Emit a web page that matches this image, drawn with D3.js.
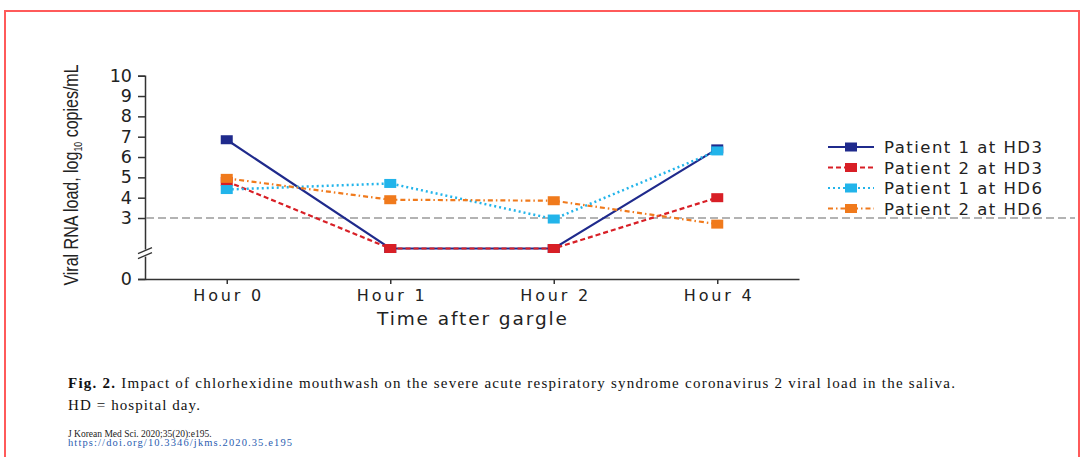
<!DOCTYPE html>
<html>
<head>
<meta charset="utf-8">
<script src="https://cdn.jsdelivr.net/npm/d3@7"></script>
<style>
  html, body { margin: 0; padding: 0; background: #fff; }
  svg { display: block; }
</style>
</head>
<body>
<svg id="chart" width="1083" height="457"></svg>
<script>
// Time points after gargling
const hours = ["Hour 0", "Hour 1", "Hour 2", "Hour 4"];

// Viral RNA load (log10 copies/mL); 1.5 = below detection limit
const patient1HD3 = [6.85, 1.5, 1.5, 6.4];
const patient2HD3 = [4.8, 1.5, 1.5, 4.0];
const patient1HD6 = [4.4, 4.7, 2.95, 6.3];
const patient2HD6 = [4.95, 3.9, 3.85, 2.7];

const yTicks = [0, 3, 4, 5, 6, 7, 8, 9, 10];
const detectionLimit = 3;

const seriesNames = ["Patient 1 at HD3", "Patient 2 at HD3", "Patient 1 at HD6", "Patient 2 at HD6"];
const seriesValues = [patient1HD3, patient2HD3, patient1HD6, patient2HD6];
const seriesColors = ["#1f2a8c", "#d81f26", "#22b4ea", "#f07a1c"];
const seriesDash = [null, "5,3", "2,3", "5,3,1.5,3"];

const svg = d3.select("#chart");
const sans = "'DejaVu Sans', 'Open Sans', sans-serif";
const serif = "'Liberation Serif', 'Times New Roman', serif";

// Red frame around the figure
svg.append("path")
  .attr("d", "M5,460 V11 H1079 V460")
  .attr("stroke", "#ff5a5a").attr("stroke-width", 2).attr("fill", "none");

const x = d3.scalePoint().domain(hours).range([145, 799]).padding(0.5);
const y = d3.scaleLinear().domain([0, 10]).range([279, 75.7]);

const axisColor = "#333";

// Y axis
const yAxis = svg.append("g")
  .attr("transform", "translate(145,0)")
  .call(d3.axisLeft(y).tickValues(yTicks).tickSize(7).tickPadding(6).tickFormat(d3.format("d")));
yAxis.select(".domain").attr("stroke", axisColor).attr("stroke-width", 1.5);
yAxis.selectAll(".tick line").attr("stroke", axisColor).attr("stroke-width", 1.5);
yAxis.selectAll(".tick text")
  .attr("font-family", sans)
  .attr("font-size", 17.5).attr("fill", "#222");

// Axis break marks
const by = y(1.25);
const brk = svg.append("g");
brk.append("rect").attr("x", 140).attr("y", by - 4).attr("width", 10).attr("height", 7).attr("fill", "#fff");
[-3, 2].forEach(o => {
  brk.append("line")
    .attr("x1", 138).attr("y1", by + o + 3).attr("x2", 152).attr("y2", by + o - 3)
    .attr("stroke", axisColor).attr("stroke-width", 1.3);
});

// X axis
const xAxis = svg.append("g")
  .attr("transform", "translate(0,279)")
  .call(d3.axisBottom(x).tickSize(5).tickSizeOuter(0).tickPadding(6));
xAxis.select(".domain").attr("stroke", axisColor).attr("stroke-width", 1.5);
xAxis.selectAll(".tick line").attr("stroke", axisColor).attr("stroke-width", 1.5);
xAxis.selectAll(".tick text")
  .attr("font-family", sans)
  .attr("font-size", 16).attr("fill", "#222")
  .attr("textLength", 68).attr("lengthAdjust", "spacing");

// Axis titles
svg.append("text")
  .attr("x", 472).attr("y", 325)
  .attr("text-anchor", "middle")
  .attr("font-family", sans)
  .attr("font-size", 18.5).attr("fill", "#222")
  .attr("textLength", 190).attr("lengthAdjust", "spacing")
  .text("Time after gargle");

const yTitle = svg.append("text")
  .attr("transform", "translate(78,175) rotate(-90) scale(0.8,1)")
  .attr("text-anchor", "middle")
  .attr("font-family", "'Liberation Sans Narrow', 'Liberation Sans', sans-serif")
  .attr("font-size", 20).attr("fill", "#222");
yTitle.append("tspan").text("Viral RNA load, log");
yTitle.append("tspan").attr("font-size", 11).attr("dy", 4).text("10");
yTitle.append("tspan").attr("dy", -4).text(" copies/mL");

// Detection limit reference line
svg.append("line")
  .attr("x1", 146).attr("x2", 1075)
  .attr("y1", y(detectionLimit)).attr("y2", y(detectionLimit))
  .attr("stroke", "#9a9a9a").attr("stroke-width", 1.5).attr("stroke-dasharray", "8,4");

// Series lines and markers
const line = d3.line().x((d, i) => x(hours[i])).y(d => y(d));
seriesValues.forEach((vals, s) => {
  const g = svg.append("g");
  g.append("path")
    .attr("d", line(vals))
    .attr("fill", "none")
    .attr("stroke", seriesColors[s])
    .attr("stroke-width", s === 2 ? 2.5 : 2.2)
    .attr("stroke-dasharray", seriesDash[s]);
  g.selectAll("rect").data(vals).join("rect")
    .attr("x", (d, i) => x(hours[i]) - 6)
    .attr("y", d => y(d) - 4.5)
    .attr("width", 12).attr("height", 9)
    .attr("fill", seriesColors[s]);
});

// Legend
const legend = svg.append("g");
seriesNames.forEach((name, s) => {
  const ly = 147 + s * 20.5;
  legend.append("line")
    .attr("x1", 828).attr("x2", 874).attr("y1", ly).attr("y2", ly)
    .attr("stroke", seriesColors[s]).attr("stroke-width", 2)
    .attr("stroke-dasharray", seriesDash[s]);
  legend.append("rect")
    .attr("x", 845).attr("y", ly - 4.5).attr("width", 12).attr("height", 9)
    .attr("fill", seriesColors[s]);
  legend.append("text")
    .attr("x", 884).attr("y", ly + 6)
    .attr("font-family", sans)
    .attr("font-size", 16.5).attr("fill", "#222")
    .attr("textLength", 158).attr("lengthAdjust", "spacing")
    .text(name);
});

// Caption
const cap = svg.append("text")
  .attr("x", 68).attr("y", 388)
  .attr("font-family", serif)
  .attr("font-size", 15).attr("fill", "#111")
  .attr("textLength", 887).attr("lengthAdjust", "spacing");
cap.append("tspan").attr("font-weight", "bold").text("Fig. 2.");
cap.append("tspan").text(" Impact of chlorhexidine mouthwash on the severe acute respiratory syndrome coronavirus 2 viral load in the saliva.");

svg.append("text")
  .attr("x", 68).attr("y", 410)
  .attr("font-family", serif)
  .attr("font-size", 15).attr("fill", "#111")
  .attr("textLength", 132).attr("lengthAdjust", "spacing")
  .text("HD = hospital day.");

svg.append("text")
  .attr("x", 68).attr("y", 437)
  .attr("font-family", serif)
  .attr("font-size", 9.5).attr("fill", "#222")
  .text("J Korean Med Sci. 2020;35(20):e195.");
svg.append("text")
  .attr("x", 68).attr("y", 446)
  .attr("font-family", serif)
  .attr("font-size", 10.5).attr("fill", "#2a5db0")
  .attr("textLength", 224).attr("lengthAdjust", "spacing")
  .text("https://doi.org/10.3346/jkms.2020.35.e195");
</script>
</body>
</html>
